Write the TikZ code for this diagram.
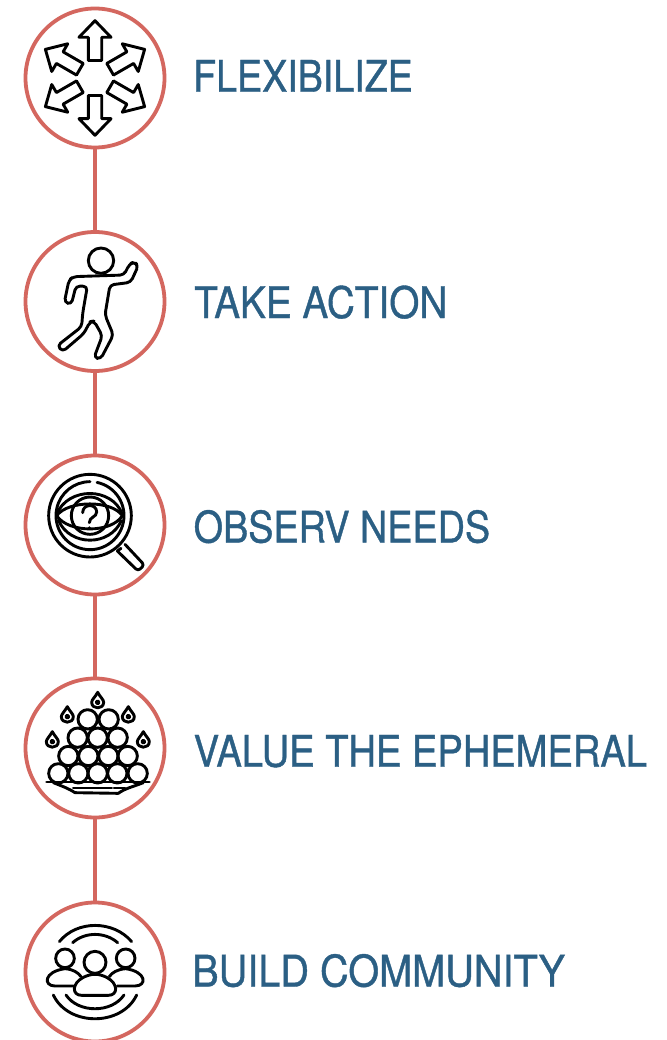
\documentclass[tikz,border=0pt]{standalone}
\usepackage{fontspec}
\newfontfamily\lblA[FakeStretch=0.865,FakeBold=0.9]{TeX Gyre Heros}
\newfontfamily\lblB[FakeStretch=0.89,FakeBold=0.9]{TeX Gyre Heros}
\newfontfamily\lblC[FakeStretch=0.868,FakeBold=0.9]{TeX Gyre Heros}
\newfontfamily\lblD[FakeStretch=0.876,FakeBold=0.9]{TeX Gyre Heros}
\newfontfamily\lblE[FakeStretch=0.912,FakeBold=0.9]{TeX Gyre Heros}
\definecolor{ring}{HTML}{D4675F}
\definecolor{lbl}{HTML}{2B5F84}
\tikzset{
  ringnode/.style={circle,draw=ring,line width=3.8pt,minimum size=139pt,inner sep=0pt,fill=white},
  linkline/.style={draw=ring,line width=3.8pt},
  lblnode/.style={anchor=base west,inner sep=0pt,text=lbl},
  iconline/.style={draw=black,line width=2.9pt,line join=round,line cap=round},
  zoomed/.style={x=0.33333pt,y=-0.33333pt}
}
\newcommand{\lblsize}{\fontsize{43.5}{44}\selectfont}
\begin{document}
\begin{tikzpicture}[x=1pt,y=-1pt]
\useasboundingbox (0,0) rectangle (666,1040);
\fill[white] (0,0) rectangle (666,1040);
\coordinate (p1) at (95,78);
\coordinate (p2) at (95,301.5);
\coordinate (p3) at (95,525);
\coordinate (p4) at (95,748);
\coordinate (p5) at (95,972);
\draw[linkline] (p1) -- (p2);
\draw[linkline] (p2) -- (p3);
\draw[linkline] (p3) -- (p4);
\draw[linkline] (p4) -- (p5);
\node[ringnode] (c1) at (p1) {};
\node[ringnode] (c2) at (p2) {};
\node[ringnode] (c3) at (p3) {};
\node[ringnode] (c4) at (p4) {};
\node[ringnode] (c5) at (p5) {};
\node[lblnode,font=\lblA\lblsize] (t1) at (193,91.7) {FLEXIBILIZE};
\node[lblnode,font=\lblB\lblsize] (t2) at (194,318) {TAKE ACTION};
\node[lblnode,font=\lblC\lblsize] (t3) at (193.5,542.5) {OBSERV NEEDS};
\node[lblnode,font=\lblD\lblsize] (t4) at (193.5,766.7) {VALUE THE EPHEMERAL};
\node[lblnode,font=\lblE\lblsize] (t5) at (192,986.5) {BUILD COMMUNITY};

% arrows
\begin{scope}[shift={(95,78)}]
\foreach \a in {0,60,...,300}{
  \draw[iconline,rotate=\a] (0,-57.3) -- (16,-40.7) -- (6.7,-40.7) -- (6.7,-17.5) -- (-6.7,-17.5) -- (-6.7,-40.7) -- (-16,-40.7) -- cycle;
}
\end{scope}

% runner
\begin{scope}[shift={(10,225)},zoomed]
\draw[iconline] (273,107) circle (38);
\draw[iconline,rounded corners=4pt] (190,155) -- (342,150) -- (358,118) -- (372,110) -- (385,122) -- (362,172) -- (300,180) -- (285,270) -- (310,330) -- (272,402) -- (252,398) -- (277,332) -- (252,288) -- (240,290) -- (222,325) -- (158,380) -- (142,362) -- (215,305) -- (218,265) -- (232,184) -- (198,183) -- (184,238) -- (163,232) -- (177,165) -- cycle;
\end{scope}

% eye and lens
\begin{scope}[shift={(10,450)},zoomed]
\draw[iconline] (240,197) circle (124);
\draw[iconline] (240,197) ++(-78:102) arc (-78:270:102);
\draw[iconline] (140,192) .. controls (175,110) and (305,110) .. (337,192);
\draw[iconline] (140,197) .. controls (175,150) and (305,150) .. (337,197) .. controls (305,250) and (175,250) .. (140,197) -- cycle;
\draw[iconline] (146,212) .. controls (180,290) and (300,290) .. (334,212);
\draw[iconline] (240,197) circle (56);
\draw[iconline] (218,188) .. controls (218,160) and (260,160) .. (260,186) .. controls (260,202) and (238,200) .. (238,218);
\fill (238,233) circle (4.5);
\draw[iconline,rounded corners=3pt] (345,283) -- (403,345) -- (384,363) -- (322,303);
\draw[iconline] (322,303) -- (333,295);
\end{scope}

% sweets on a plate
\begin{scope}[shift={(10,670)},zoomed]
\foreach \x in {233,296}{\draw[iconline] (\x,148) circle (29);}
\foreach \x in {203,263,323}{\draw[iconline] (\x,203) circle (29);}
\foreach \x in {175,235,295,353}{\draw[iconline] (\x,258) circle (29);}
\foreach \x in {145,205,263,322,383}{\draw[iconline] (\x,310) circle (29);}
\draw[iconline] (110,336) -- (418,336);
\draw[iconline] (130,338) .. controls (160,350) and (175,355) .. (195,368) -- (325,370) .. controls (345,355) and (370,350) .. (400,338);
\draw[iconline] (190,354) -- (305,354) (312,354) -- (345,354);
\foreach \x/\y in {263/92,172/135,355/135,127/210,400/210}{
  \draw[iconline] (\x,\y-25) .. controls (\x+8,\y-10) and (\x+18,\y-3) .. (\x+18,\y+5) .. controls (\x+18,\y+27) and (\x-18,\y+27) .. (\x-18,\y+5) .. controls (\x-18,\y-3) and (\x-8,\y-10) .. (\x,\y-25) -- cycle;
  \draw[iconline] (\x,\y+5) circle (4.5);
}
\end{scope}

% community
\begin{scope}[shift={(10,890)},zoomed]
\draw[iconline] (148,155) .. controls (200,90) and (310,90) .. (365,155);
\draw[iconline] (188,158) .. controls (225,125) and (285,125) .. (323,158);
\draw[iconline] (130,315) .. controls (175,410) and (335,410) .. (380,315);
\draw[iconline] (168,315) .. controls (205,370) and (305,370) .. (342,315);
\draw[iconline] (165,205) circle (28);
\draw[iconline] (347,205) circle (28);
\draw[iconline] (255,217) circle (33);
\draw[iconline] (190,288) -- (135,288) .. controls (100,288) and (100,245) .. (165,236) .. controls (190,238) and (205,248) .. (213,260);
\draw[iconline] (322,288) -- (375,288) .. controls (412,288) and (410,245) .. (347,236) .. controls (322,238) and (305,248) .. (298,260);
\draw[iconline] (215,316) -- (295,316) .. controls (325,316) and (325,280) .. (290,262) .. controls (265,250) and (245,250) .. (220,262) .. controls (185,280) and (185,316) .. (215,316) -- cycle;
\end{scope}
\end{tikzpicture}
\end{document}
